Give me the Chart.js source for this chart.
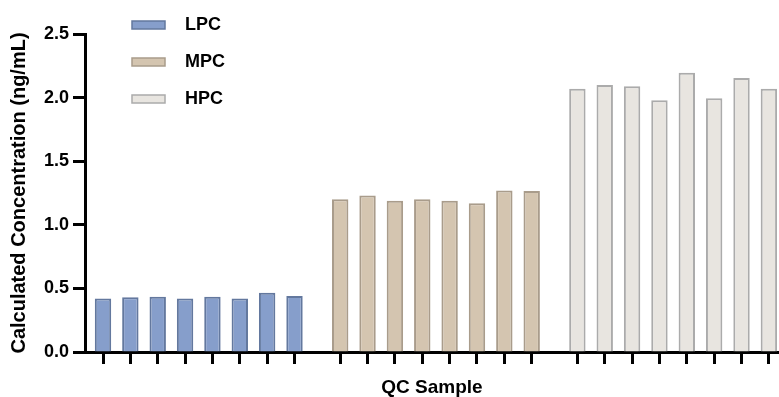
<!DOCTYPE html>
<html>
<head>
<meta charset="utf-8">
<title>QC Sample</title>
<script src="https://cdn.jsdelivr.net/npm/chart.js@4.4.1/dist/chart.umd.min.js"></script>
<style>
  body { margin: 0; background: #fff; }
  #wrap { width: 779px; height: 397px; }
</style>
</head>
<body>
<div id="wrap"><canvas id="qcChart" width="779" height="397"></canvas></div>
<script>
// calculated concentration of every QC sample (ng/mL)
var lpcValues = [0.42, 0.43, 0.435, 0.42, 0.435, 0.42, 0.465, 0.44];
var mpcValues = [1.20, 1.23, 1.19, 1.20, 1.19, 1.17, 1.27, 1.265];
var hpcValues = [2.07, 2.10, 2.09, 1.98, 2.195, 1.995, 2.155, 2.07];
var seriesNames = ['LPC', 'MPC', 'HPC'];
var yTickValues = [0, 0.5, 1.0, 1.5, 2.0, 2.5];

var FONT = "'Liberation Sans', Arial, sans-serif";
var groupGap = 0.67; // extra room between groups, in sample widths

// sample i of group g sits at x = g*(n+gap) + i + 1
function toPoints(values, group) {
  return values.map(function (v, i) {
    return { x: group * (values.length + groupGap) + i + 1, y: v };
  });
}

var lpcPts = toPoints(lpcValues, 0);
var mpcPts = toPoints(mpcValues, 1);
var hpcPts = toPoints(hpcValues, 2);
var allX = lpcPts.concat(mpcPts, hpcPts).map(function (p) { return p.x; });

// legend stacked on the left, like the original figure
var sideLegend = {
  id: 'sideLegend',
  afterDraw: function (chart) {
    var ctx = chart.ctx;
    chart.data.datasets.forEach(function (ds, i) {
      var y = 25 + i * 37;
      ctx.save();
      ctx.fillStyle = ds.backgroundColor;
      ctx.strokeStyle = ds.borderColor;
      ctx.lineWidth = 1.5;
      ctx.fillRect(132, y - 4, 33, 8);
      ctx.strokeRect(132, y - 4, 33, 8);
      ctx.fillStyle = '#000';
      ctx.font = 'bold 18px ' + FONT;
      ctx.textBaseline = 'middle';
      ctx.fillText(ds.label, 185, y);
      ctx.restore();
    });
  }
};

var barStyle = { grouped: false, borderWidth: 2, borderSkipped: 'start', categoryPercentage: 1, barPercentage: 0.6 };

var data = {
  datasets: [
    Object.assign({ label: seriesNames[0], data: lpcPts, backgroundColor: '#869ecb', borderColor: '#63789e' }, barStyle),
    Object.assign({ label: seriesNames[1], data: mpcPts, backgroundColor: '#d4c5b0', borderColor: '#a99c8b' }, barStyle),
    Object.assign({ label: seriesNames[2], data: hpcPts, backgroundColor: '#e8e5e0', borderColor: '#ababab' }, barStyle)
  ]
};

var config = {
  type: 'bar',
  data: data,
  options: {
    responsive: false,
    animation: false,
    devicePixelRatio: 1,
    layout: { padding: { top: 34, right: 0, left: 0, bottom: 0 } },
    plugins: { legend: { display: false }, tooltip: { enabled: false } },
    scales: {
      x: {
        type: 'linear',
        offset: false,
        min: 1 - 0.658,
        max: allX[allX.length - 1] + 0.37,
        afterBuildTicks: function (scale) {
          scale.ticks = allX.map(function (v) { return { value: v }; });
        },
        afterFit: function (scale) { scale.height = 45; },
        ticks: { display: false },
        grid: { display: true, offset: false, drawOnChartArea: false, drawTicks: true, tickLength: 12, tickWidth: 3, tickColor: '#000' },
        border: { display: true, color: '#000', width: 3 },
        title: {
          display: true, text: 'QC Sample', color: '#000',
          font: { family: FONT, size: 19, weight: 'bold' },
          padding: { top: 0, bottom: -2 }
        }
      },
      y: {
        min: 0,
        max: 2.5,
        afterBuildTicks: function (scale) {
          scale.ticks = yTickValues.map(function (v) { return { value: v }; });
        },
        afterFit: function (scale) { scale.width = 85; },
        ticks: {
          color: '#000', padding: 4,
          font: { family: FONT, size: 18, weight: 'bold' },
          callback: function (v) { return Number(v).toFixed(1); }
        },
        grid: { display: true, drawOnChartArea: false, drawTicks: true, tickLength: 12, tickWidth: 3, tickColor: '#000' },
        border: { display: true, color: '#000', width: 3 },
        title: {
          display: true, text: 'Calculated Concentration (ng/mL)', color: '#000',
          font: { family: FONT, size: 20, weight: 'bold' },
          padding: { top: 7, bottom: 4 }
        }
      }
    }
  },
  plugins: [sideLegend]
};

var graph = new Chart(document.getElementById('qcChart'), config);
</script>
</body>
</html>
